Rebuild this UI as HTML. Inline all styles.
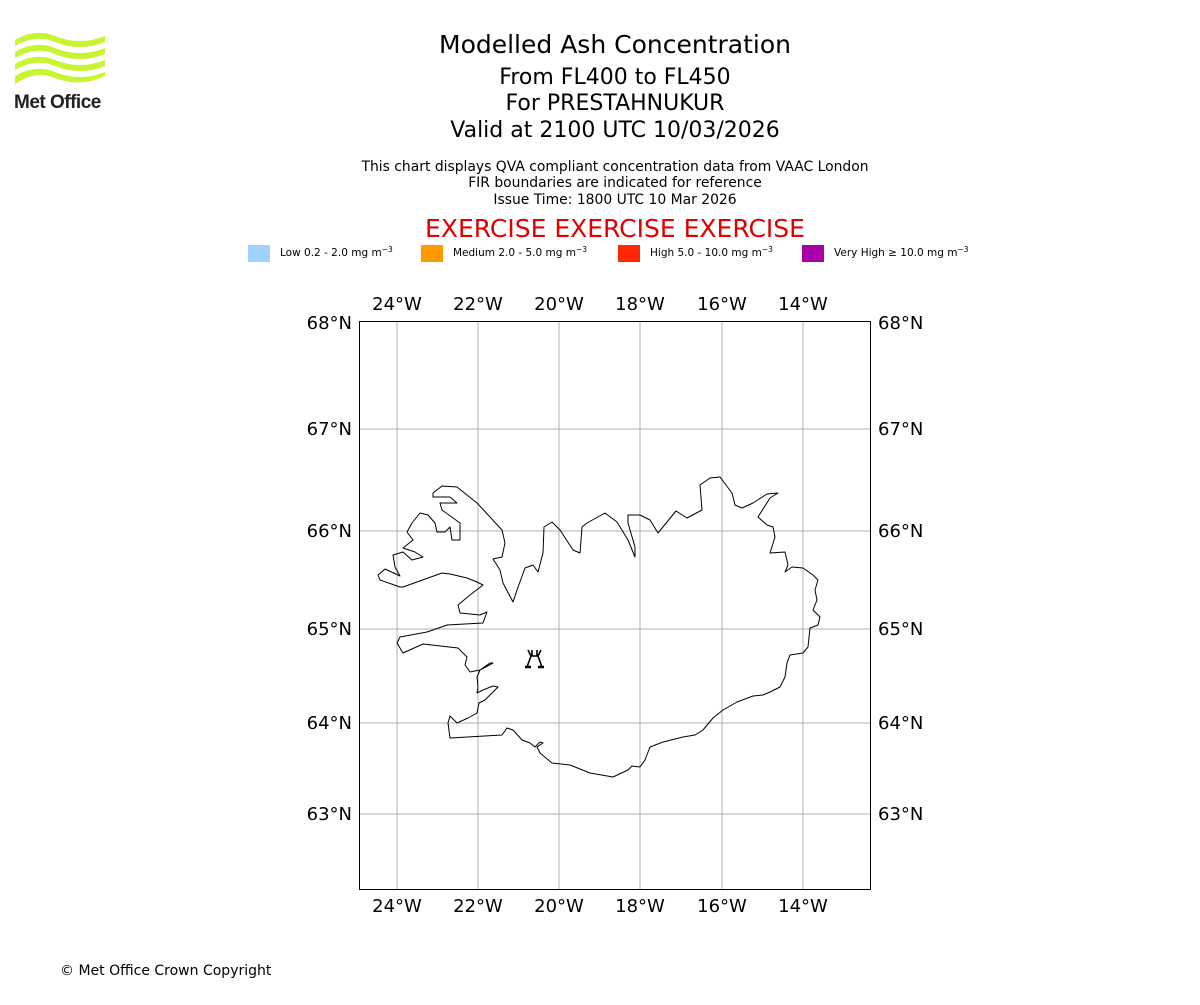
<!DOCTYPE html>
<html><head><meta charset="utf-8"><style>
body{margin:0;background:#fff;width:1200px;height:1000px;overflow:hidden;font-family:"Liberation Sans","DejaVu Sans",sans-serif}
</style></head><body>
<svg width="1200" height="1000" xmlns="http://www.w3.org/2000/svg" font-family="DejaVu Sans, Liberation Sans, sans-serif">
<!-- logo -->
<g fill="#c8f531">
<path d="M15 40 Q35 28 55 36 Q80 46 105 36 L105 42 Q80 52 55 42 Q35 34 15 46Z"/>
<path d="M15 52 Q35 40 55 48 Q80 58 105 48 L105 54 Q80 64 55 54 Q35 46 15 58Z"/>
<path d="M15 64 Q35 52 55 60 Q80 70 105 60 L105 66 Q80 76 55 66 Q35 58 15 70Z"/>
<path d="M15 76 Q35 64 55 72 Q80 82 105 72 L105 76 Q80 88 55 78 Q35 70 15 84Z"/>
</g>
<text x="14" y="108" font-family="Liberation Sans, sans-serif" font-weight="bold" font-size="19" fill="#222" letter-spacing="-0.5">Met Office</text>
<g text-anchor="middle" fill="#000">
<text x="615" y="53" font-size="25">Modelled Ash Concentration</text>
<text x="615" y="84" font-size="22">From FL400 to FL450</text>
<text x="615" y="110" font-size="22">For PRESTAHNUKUR</text>
<text x="615" y="137" font-size="22">Valid at 2100 UTC 10/03/2026</text>
<text x="615" y="171" font-size="13.9">This chart displays QVA compliant concentration data from VAAC London</text>
<text x="615" y="187" font-size="13.9">FIR boundaries are indicated for reference</text>
<text x="615" y="204" font-size="13.9">Issue Time: 1800 UTC 10 Mar 2026</text>
<text x="615" y="237" font-size="25" fill="#e00000">EXERCISE EXERCISE EXERCISE</text>
</g>
<g font-size="10.5">
<rect x="248" y="245" width="22" height="17" fill="#a0d2ff"/><text x="280" y="256">Low 0.2 - 2.0 mg m<tspan dy="-4" font-size="7.5">−3</tspan></text>
<rect x="421" y="245" width="22" height="17" fill="#ff9900"/><text x="453" y="256">Medium 2.0 - 5.0 mg m<tspan dy="-4" font-size="7.5">−3</tspan></text>
<rect x="618" y="245" width="22" height="17" fill="#ff2800"/><text x="650" y="256">High 5.0 - 10.0 mg m<tspan dy="-4" font-size="7.5">−3</tspan></text>
<rect x="802" y="245" width="22" height="17" fill="#aa00aa"/><text x="834" y="256">Very High  ≥  10.0 mg m<tspan dy="-4" font-size="7.5">−3</tspan></text>
</g>
<!-- grid -->
<g stroke="#b0b0b0" stroke-width="1">
<line x1="397" y1="321" x2="397" y2="890"/><line x1="478" y1="321" x2="478" y2="890"/>
<line x1="559" y1="321" x2="559" y2="890"/><line x1="640" y1="321" x2="640" y2="890"/>
<line x1="722" y1="321" x2="722" y2="890"/><line x1="803" y1="321" x2="803" y2="890"/>
<line x1="359" y1="429" x2="871" y2="429"/><line x1="359" y1="531" x2="871" y2="531"/>
<line x1="359" y1="629" x2="871" y2="629"/><line x1="359" y1="723" x2="871" y2="723"/>
<line x1="359" y1="814" x2="871" y2="814"/>
</g>
<path fill="none" stroke="#000" stroke-width="1" stroke-linejoin="round" d="M433 493 L442 486 L457 487 L477 503 L502 530 L505 543 L502 557 L493 559 L500 570 L503 583 L513 602 L517 590 L525 568 L533 565 L538 572 L543 553 L544 527 L552 522 L560 530 L573 550 L580 553 L582 527 L587 523 L605 513 L617 522 L628 540 L635 557 L635 547 L628 523 L628 515 L640 515 L650 520 L658 533 L676 511 L687 518 L702 510 L700 485 L710 478 L720 477 L732 493 L735 505 L742 508 L753 503 L767 494 L778 493 L770 498 L758 517 L767 525 L773 527 L775 537 L770 553 L785 552 L788 565 L785 572 L792 567 L803 568 L813 575 L818 580 L815 590 L817 600 L813 610 L820 617 L818 625 L810 628 L808 647 L803 653 L790 655 L787 663 L785 677 L780 687 L770 692 L763 695 L753 696 L737 702 L723 710 L713 718 L703 730 L695 735 L683 737 L663 742 L650 747 L645 760 L640 767 L632 766 L628 770 L613 777 L590 773 L570 765 L552 763 L540 753 L537 747 L543 743 L540 742 L535 747 L530 743 L522 740 L513 730 L507 728 L502 735 L450 738 L448 723 L450 716 L457 723 L468 718 L477 713 L479 703 L485 700 L498 687 L493 686 L483 690 L477 693 L478 687 L477 677 L480 670 L493 663 L490 663 L480 670 L470 672 L465 665 L467 657 L458 648 L423 644 L403 653 L397 643 L400 637 L427 632 L433 630 L447 625 L483 623 L487 612 L480 615 L460 613 L458 605 L470 595 L483 585 L477 582 L467 578 L450 574 L442 573 L403 587 L400 587 L380 580 L378 575 L385 569 L400 576 L395 567 L393 555 L403 552 L412 560 L423 557 L415 552 L403 548 L413 540 L407 532 L412 523 L420 513 L428 515 L435 523 L437 532 L445 532 L450 527 L452 540 L460 540 L460 523 L442 510 L440 503 L457 503 L450 497 L433 497 Z"/>
<!-- volcano -->
<g stroke="#000" stroke-width="1.6" fill="none">
<path d="M528 650 L531 656 L527 667 M541 650 L538 656 L542 667 M531 656 L538 656 M532 650 L532 656 M537 650 L537 656"/>
<path d="M525 667 L531 667 M538 667 L544 667" stroke-width="2.5"/>
</g>
<rect x="359.5" y="321.5" width="511" height="568" fill="none" stroke="#000" stroke-width="1"/>
<g font-size="18" fill="#000" text-anchor="middle">
<text x="397" y="310">24°W</text><text x="478" y="310">22°W</text><text x="559" y="310">20°W</text>
<text x="640" y="310">18°W</text><text x="722" y="310">16°W</text><text x="803" y="310">14°W</text>
<text x="397" y="912">24°W</text><text x="478" y="912">22°W</text><text x="559" y="912">20°W</text>
<text x="640" y="912">18°W</text><text x="722" y="912">16°W</text><text x="803" y="912">14°W</text>
</g>
<g font-size="18" fill="#000">
<g text-anchor="end">
<text x="352" y="329">68°N</text><text x="352" y="435">67°N</text><text x="352" y="537">66°N</text>
<text x="352" y="635">65°N</text><text x="352" y="729">64°N</text><text x="352" y="820">63°N</text>
</g>
<text x="878" y="329">68°N</text><text x="878" y="435">67°N</text><text x="878" y="537">66°N</text>
<text x="878" y="635">65°N</text><text x="878" y="729">64°N</text><text x="878" y="820">63°N</text>
</g>
<text x="60" y="975" font-size="14" fill="#000">© Met Office Crown Copyright</text>
</svg>
</body></html>
